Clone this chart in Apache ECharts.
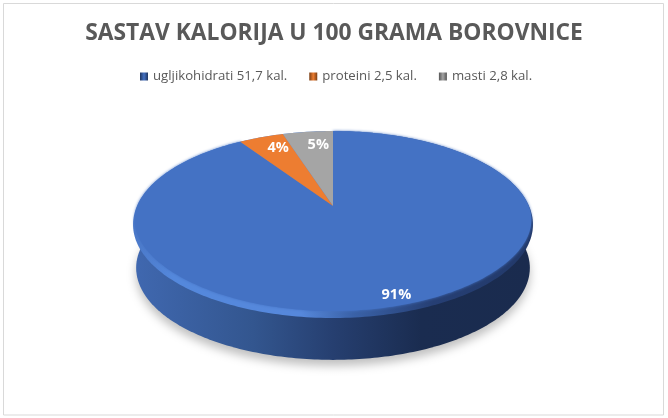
<!DOCTYPE html>
<html><head><meta charset="utf-8">
<style>html,body{margin:0;padding:0;background:#fff}#c{width:668px;height:418px}</style>
<script src="https://cdn.jsdelivr.net/npm/echarts@6/dist/echarts.min.js"></script>
</head><body><div id="c"></div>
<script>
const chartTitle = 'SASTAV KALORIJA U 100 GRAMA BOROVNICE';
const categories = ['ugljikohidrati 51,7 kal.', 'proteini 2,5 kal.', 'masti 2,8 kal.'];
const calories = [51.7, 2.5, 2.8];
const colors = ['#4472C4', '#ED7D31', '#A5A5A5'];
const iconColors = [['#1f3560', '#4472C4', '#1f3560'], ['#7a3d12', '#ED7D31', '#7a3d12'], ['#555555', '#A5A5A5', '#555555']];

const total = calories.reduce((a, b) => a + b, 0);
// Perspective disc: apex, tilt and size of the pie's top face
const P = { cx: 333, cy: 206, a: 89.8, b: 196, k: 0.198, depth: 44 };
function proj(u, v, dy) {
  const d = 1 + P.k * v;
  return [P.cx + P.b * u / d, P.cy + (dy || 0) - P.a * v / d];
}
function sliceRange(i) {
  let before = 0;
  for (let j = 0; j < i; j++) before += calories[j];
  return [before / total * 2 * Math.PI, (before + calories[i]) / total * 2 * Math.PI];
}
function arcPoints(a0, a1, inset) {
  const pts = [], n = Math.max(4, Math.ceil((a1 - a0) / 0.02));
  for (let i = 0; i <= n; i++) {
    const t = a0 + (a1 - a0) * i / n, u = Math.sin(t), v = Math.cos(t);
    const w = Math.max(0, 0.1 - v) / 1.1;
    const s = inset ? 1 - 0.05 * w * w * (3 - 2 * w) : 1;
    pts.push(proj(u * s, v * s));
  }
  return pts;
}
function linear(x0, x1, stops) {
  return { type: 'linear', x: x0, y: 0, x2: x1, y2: 0, global: true,
    colorStops: stops.map(s => ({ offset: s[0], color: s[1] })) };
}
const labelNudge = [[7, 3], [7, 1], [7, 3]];
const labelPos = 0.84;

function sliceSeries(i) {
  return {
    type: 'custom', name: categories[i], coordinateSystem: 'none', silent: true, z: 5 + i,
    data: [calories[i]],
    itemStyle: { color: colors[i] },
    renderItem: function () {
      const r = sliceRange(i), mid = (r[0] + r[1]) / 2;
      const pts = [proj(0, 0)].concat(arcPoints(r[0], r[1], i === 0));
      const lp = proj(Math.sin(mid) * labelPos, Math.cos(mid) * labelPos);
      const style = { fill: colors[i] };
      if (i === 0) { style.shadowBlur = 3; style.shadowColor = colors[0]; }
      return { type: 'group', children: [
        { type: 'polygon', shape: { points: pts }, style: style },
        { type: 'text', z2: 50, style: {
          text: Math.round(calories[i] / total * 100) + '%',
          x: lp[0] + labelNudge[i][0], y: lp[1] + labelNudge[i][1],
          align: 'center', verticalAlign: 'middle', fill: '#fff',
          font: 'bold 14.5px "Open Sans"' } }
      ] };
    }
  };
}
const bodySeries = {
  type: 'custom', name: 'body', coordinateSystem: 'none', silent: true, z: 2,
  data: [total],
  renderItem: function () {
    const lower = [], n = 240;
    for (let i = 0; i <= n; i++) {
      const t = Math.PI * 0.4 + Math.PI * 1.2 * i / n;
      lower.push(proj(Math.sin(t) * 0.985, Math.cos(t) * 0.985, P.depth));
    }
    const ring = arcPoints(0, 2 * Math.PI, false);
    return { type: 'group', children: [
      { type: 'polygon', shape: { points: lower }, style: {
        fill: linear(133, 533, [[0, '#4068b0'], [0.3, '#33568f'], [0.5, '#263f70'], [0.72, '#1a2c50'], [1, '#1a2b4e']]),
        shadowBlur: 10, shadowColor: 'rgba(0,0,0,0.25)', shadowOffsetY: 6 } },
      { type: 'polygon', shape: { points: ring }, style: {
        fill: linear(133, 533, [[0, '#4a78c8'], [0.1, '#5488dc'], [0.42, '#5688dc'], [0.55, '#3a62a8'], [0.75, '#263f74'], [1, '#22396a']]) } }
    ] };
  }
};

const chart = echarts.init(document.getElementById('c'), null, { renderer: 'canvas' });
chart.setOption({
  animation: false,
  backgroundColor: '#fff',
  title: { text: chartTitle, left: 'center', top: 17,
    textStyle: { fontFamily: 'Open Sans', fontWeight: 'bold', fontSize: 22.8, color: '#595959' } },
  legend: {
    left: 135, top: 65, selectedMode: false, itemWidth: 8, itemHeight: 8, itemGap: 22, icon: 'rect',
    textStyle: { fontFamily: 'Open Sans', fontSize: 13.2, color: '#595959' },
    data: categories.map((c, i) => ({ name: c, itemStyle: { color: {
      type: 'linear', x: 0, y: 0, x2: 1, y2: 0,
      colorStops: [{ offset: 0, color: iconColors[i][0] }, { offset: 0.5, color: iconColors[i][1] }, { offset: 1, color: iconColors[i][2] }] } } }))
  },
  graphic: [{ type: 'rect', silent: true, z: 0,
    shape: { x: 3.5, y: 3.5, width: 660, height: 411.5 },
    style: { fill: 'none', stroke: '#d9d9d9', lineWidth: 1 } }],
  series: [bodySeries].concat(categories.map((c, i) => sliceSeries(i)))
});
</script></body></html>
